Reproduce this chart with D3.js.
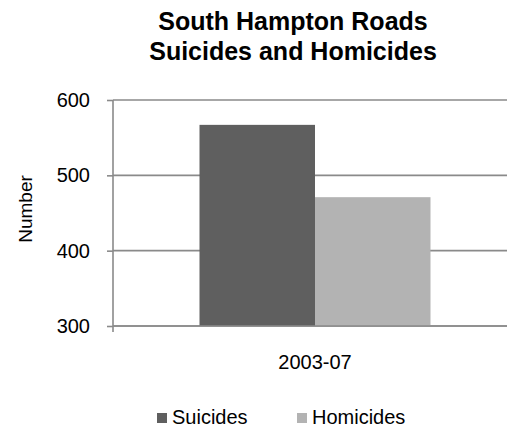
<!DOCTYPE html>
<html>
<head>
<meta charset="utf-8">
<script src="https://cdn.jsdelivr.net/npm/d3@7"></script>
<style>
  body { margin: 0; background: #fff; }
  text { font-family: "Liberation Sans", Arial, sans-serif; fill: #000; }
</style>
</head>
<body>
<svg id="chart" width="507" height="427"></svg>
<script>
// chart data
var categories = ["2003-07"];
var seriesNames = ["Suicides", "Homicides"];
var suicides = [567];
var homicides = [471];
var yTicks = [300, 400, 500, 600];
var seriesColors = ["#5f5f5f", "#b3b3b3"];

var svg = d3.select("#chart");
var margin = { top: 100, left: 113, bottom: 326, right: 517 };

var x = d3.scaleBand()
  .domain(categories)
  .range([margin.left, margin.right])
  .paddingInner(0)
  .paddingOuter(0.3745);

var xs = d3.scaleBand()
  .domain(seriesNames)
  .range([0, x.bandwidth()]);

var y = d3.scaleLinear()
  .domain([300, 600])
  .range([margin.bottom, margin.top]);

// gridlines
svg.append("g")
  .selectAll("line")
  .data(yTicks)
  .join("line")
  .attr("x1", margin.left)
  .attr("x2", margin.right)
  .attr("y1", d => y(d))
  .attr("y2", d => y(d))
  .attr("stroke", "#8a8a8a")
  .attr("stroke-width", 1.6);

// bars
var rows = categories.map((c, i) => ({ cat: c, values: [suicides[i], homicides[i]] }));
svg.append("g")
  .selectAll("g")
  .data(rows)
  .join("g")
  .attr("transform", d => "translate(" + x(d.cat) + ",0)")
  .selectAll("rect")
  .data(d => d.values.map((v, j) => ({ name: seriesNames[j], value: v, color: seriesColors[j] })))
  .join("rect")
  .attr("x", d => xs(d.name))
  .attr("width", xs.bandwidth())
  .attr("y", d => y(d.value))
  .attr("height", d => y(300) - y(d.value))
  .attr("fill", d => d.color);

// y axis
var yAxis = svg.append("g")
  .attr("transform", "translate(" + margin.left + ",0)")
  .call(d3.axisLeft(y).tickValues(yTicks).tickSize(6).tickPadding(17).tickFormat(d3.format("d")));
yAxis.select(".domain").attr("stroke", "#8a8a8a").attr("stroke-width", 1.6)
  .attr("d", "M0," + margin.top + "V" + (margin.bottom + 6));
yAxis.selectAll(".tick line").attr("stroke", "#8a8a8a").attr("stroke-width", 1.6);
yAxis.selectAll(".tick text").style("font-size", "20px").attr("fill", "#000").attr("dy", "0.33em");

// x axis
svg.append("line")
  .attr("x1", margin.left).attr("x2", margin.right)
  .attr("y1", margin.bottom).attr("y2", margin.bottom)
  .attr("stroke", "#8a8a8a").attr("stroke-width", 1.6);

svg.append("g")
  .selectAll("text")
  .data(categories)
  .join("text")
  .attr("x", d => x(d) + x.bandwidth() / 2)
  .attr("y", 369)
  .attr("text-anchor", "middle")
  .style("font-size", "20px")
  .text(d => d);

// axis title
svg.append("text")
  .attr("transform", "translate(32,209) rotate(-90)")
  .attr("text-anchor", "middle")
  .style("font-size", "19px")
  .text("Number");

// chart title
var title = svg.append("text")
  .attr("text-anchor", "middle")
  .style("font-size", "25px")
  .style("font-weight", "bold");
title.append("tspan").attr("x", 293).attr("y", 30).text("South Hampton Roads");
title.append("tspan").attr("x", 293).attr("y", 60).text("Suicides and Homicides");

// legend
var legendX = [157, 297];
var legend = svg.append("g")
  .selectAll("g")
  .data(seriesNames)
  .join("g")
  .attr("transform", (d, i) => "translate(" + legendX[i] + ",413)");
legend.append("rect")
  .attr("width", 10).attr("height", 10)
  .attr("fill", (d, i) => seriesColors[i]);
legend.append("text")
  .attr("x", 15).attr("y", 10.5)
  .style("font-size", "20px")
  .text(d => d);
</script>
</body>
</html>
